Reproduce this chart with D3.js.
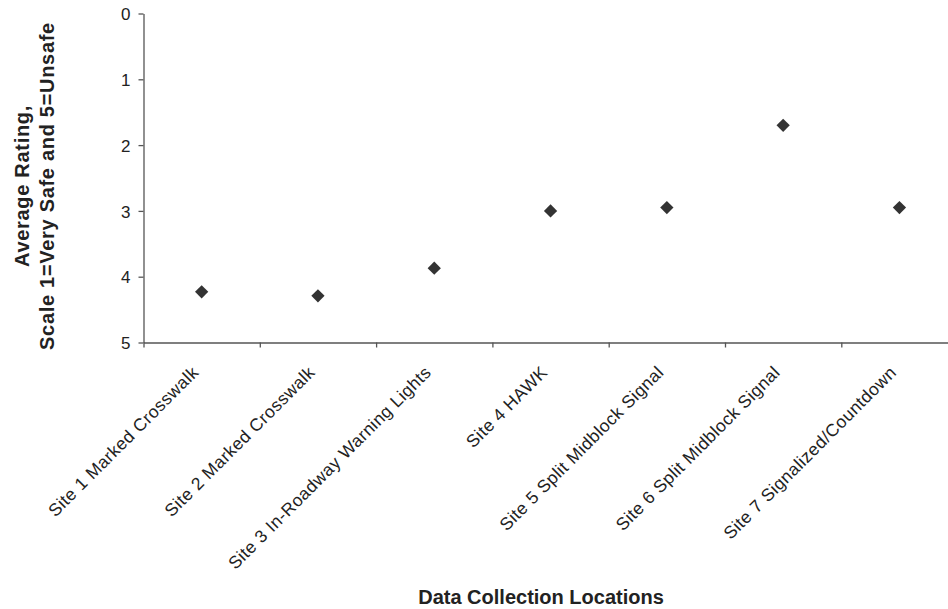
<!DOCTYPE html>
<html>
<head>
<meta charset="utf-8">
<script src="https://cdn.jsdelivr.net/npm/d3@7"></script>
<style>
  html, body { margin: 0; padding: 0; background: #fff; }
  svg { display: block; font-family: "Liberation Sans", Arial, Helvetica, sans-serif; }
</style>
</head>
<body>
<svg id="chart" width="948" height="609"></svg>
<script>
const sites = [
  "Site 1 Marked Crosswalk",
  "Site 2 Marked Crosswalk",
  "Site 3 In-Roadway Warning Lights",
  "Site 4 HAWK",
  "Site 5 Split Midblock Signal",
  "Site 6 Split Midblock Signal",
  "Site 7 Signalized/Countdown"
];
const ratings = [4.23, 4.29, 3.87, 3.0, 2.95, 1.70, 2.95];
const yTicks = [0, 1, 2, 3, 4, 5];
const yTitleLines = ["Average Rating,", "Scale 1=Very Safe and 5=Unsafe"];
const xTitle = "Data Collection Locations";

const svg = d3.select("#chart");
const plotLeft = 143.5, plotTop = 13.5, plotBottom = 342.5, step = 116.3;
const plotRight = plotLeft + step * sites.length;

const x = d3.scaleBand().domain(sites).range([plotLeft, plotRight]).padding(0);
const xEdge = d3.scaleLinear().domain([0, sites.length]).range([plotLeft, plotRight]);
const y = d3.scaleLinear().domain([0, 5]).range([plotTop, plotBottom]);

const axisColor = "#555";
const textColor = "#222";

// Y axis
const yAxis = d3.axisLeft(y).tickValues(yTicks).tickSize(5).tickSizeOuter(0).tickFormat(d3.format("d"));
const gy = svg.append("g").attr("transform", `translate(${plotLeft},0)`).call(yAxis);
gy.select(".domain").attr("stroke", axisColor).attr("stroke-width", 1.3);
gy.selectAll(".tick line").attr("stroke", axisColor).attr("stroke-width", 1.3);
gy.selectAll(".tick text").attr("fill", textColor).attr("font-size", 17)
  .attr("x", -13).attr("dy", "0.36em").attr("font-family", "Liberation Sans, Arial, sans-serif");

// X axis (ticks at category boundaries)
const xAxis = d3.axisBottom(xEdge).tickValues(d3.range(sites.length + 1)).tickSize(5).tickSizeOuter(0).tickFormat("");
const gx = svg.append("g").attr("transform", `translate(0,${plotBottom})`).call(xAxis);
gx.select(".domain").attr("stroke", axisColor).attr("stroke-width", 1.3);
gx.selectAll(".tick line").attr("stroke", axisColor).attr("stroke-width", 1.3);

// X category labels
svg.append("g").selectAll("text").data(sites).join("text")
  .attr("transform", d => `translate(${x(d) + x.bandwidth() / 2 - 2},${plotBottom + 31}) rotate(-45)`)
  .attr("text-anchor", "end")
  .attr("font-size", 17.5)
  .attr("letter-spacing", 0.45)
  .attr("fill", textColor)
  .text(d => d);

// Points
const diamond = d3.symbol().type(d3.symbolSquare).size(88);
svg.append("g").selectAll("path").data(sites).join("path")
  .attr("d", diamond)
  .attr("transform", (d, i) => `translate(${x(d) + x.bandwidth() / 2},${y(ratings[i])}) rotate(45)`)
  .attr("fill", "#333");

// Y title
const yt = svg.append("text")
  .attr("transform", `translate(0,${(plotTop + plotBottom) / 2 + 8}) rotate(-90)`)
  .attr("text-anchor", "middle")
  .attr("font-weight", "bold")
  .attr("font-size", 20)
  .attr("letter-spacing", 0.7)
  .attr("fill", textColor);
yt.selectAll("tspan").data(yTitleLines).join("tspan")
  .attr("x", 0)
  .attr("y", (d, i) => 29 + i * 25)
  .text(d => d);

// X title
svg.append("text")
  .attr("x", 541).attr("y", 604)
  .attr("text-anchor", "middle")
  .attr("font-weight", "bold")
  .attr("font-size", 20)
  .attr("fill", textColor)
  .text(xTitle);
</script>
</body>
</html>
